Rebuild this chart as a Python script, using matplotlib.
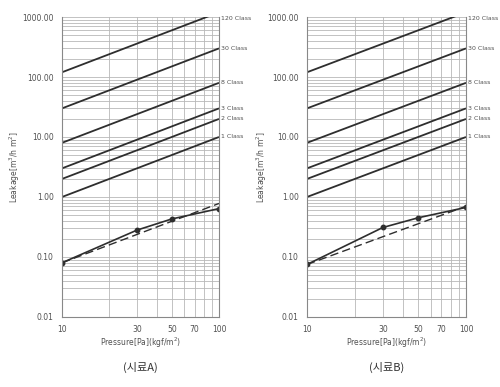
import matplotlib
matplotlib.use("Agg")
import matplotlib.pyplot as plt
from matplotlib.ticker import FixedLocator, NullFormatter, LogLocator

plt.rcParams['font.family'] = ['DejaVu Sans', 'Noto Sans CJK KR']

# Class reference lines: leakage at 10 Pa and 100 Pa
class_names = ["120 Class", "30 Class", "8 Class", "3 Class", "2 Class", "1 Class"]
class_at10 = [120, 30, 8, 3, 2, 1]
class_at100 = [1200, 300, 80, 30, 20, 10]
class_label_y = [950, 300, 80, 30, 20, 10]

pressure = [10, 30, 50, 100]
leak_A = [0.08, 0.28, 0.43, 0.64]
fit_A = [0.08, 0.78]
leak_B = [0.075, 0.31, 0.45, 0.67]
fit_B = [0.075, 0.70]

xticks = [10, 30, 50, 70, 100]
xticklabels = ["10", "30", "50", "70", "100"]
yticks = [0.01, 0.1, 1, 10, 100, 1000]
yticklabels = ["0.01", "0.10", "1.00", "10.00", "100.00", "1000.00"]

captions = ["(시료A)", "(시료B)"]

fig = plt.figure(figsize=(5.0, 3.87), dpi=100)
fig.patch.set_facecolor('white')

positions = [[0.124, 0.181, 0.314, 0.775], [0.614, 0.181, 0.318, 0.775]]
ylabel_x = [-0.255, -0.24]
datasets = [(leak_A, fit_A), (leak_B, fit_B)]

line_c = '#2e2e2e'
grid_c = '#b8b8b8'
text_c = '#505050'

for pos, lx, (leak, fit), cap in zip(positions, ylabel_x, datasets, captions):
    ax = fig.add_axes(pos)
    ax.set_xscale('log')
    ax.set_yscale('log')
    ax.set_xlim(10, 100)
    ax.set_ylim(0.01, 1000)

    for a10, a100 in zip(class_at10, class_at100):
        ax.plot([10, 100], [a10, a100], color=line_c, lw=1.3, solid_capstyle='butt')
    for name, ly in zip(class_names, class_label_y):
        ax.text(1.01, ly, name, transform=ax.get_yaxis_transform(), fontsize=4.5,
                color=text_c, va='center', ha='left')

    ax.plot(pressure, leak, color=line_c, lw=1.2, marker='o', ms=3.2)
    ax.plot([10, 100], fit, color=line_c, lw=1.0, ls=(0, (6, 3)))

    ax.xaxis.set_major_locator(FixedLocator(xticks))
    ax.set_xticklabels(xticklabels)
    ax.xaxis.set_minor_locator(FixedLocator([20, 40, 60, 80, 90]))
    ax.xaxis.set_minor_formatter(NullFormatter())
    ax.yaxis.set_major_locator(FixedLocator(yticks))
    ax.set_yticklabels(yticklabels)
    ax.yaxis.set_minor_locator(LogLocator(base=10, subs=range(2, 10), numticks=20))
    ax.yaxis.set_minor_formatter(NullFormatter())

    ax.grid(True, which='both', color=grid_c, lw=0.6)
    ax.tick_params(which='both', length=0, labelsize=5.5, colors=text_c, pad=6)
    for s in ax.spines.values():
        s.set_color('#888888')
        s.set_linewidth(0.8)
    ax.spines['top'].set_visible(False)

    ax.set_xlabel("Pressure[Pa](kgf/m$^2$)", fontsize=5.5, color=text_c, labelpad=1)
    ax.set_ylabel("Leakage[m$^3$/h m$^2$]", fontsize=5.5, color=text_c)
    ax.yaxis.set_label_coords(lx, 0.5)
    ax.text(0.5, -0.17, cap, transform=ax.transAxes, fontsize=8, color='#333333',
            ha='center', va='center', family=['Noto Sans CJK KR', 'DejaVu Sans'])

fig.savefig("out.png", dpi=100, facecolor='white')
